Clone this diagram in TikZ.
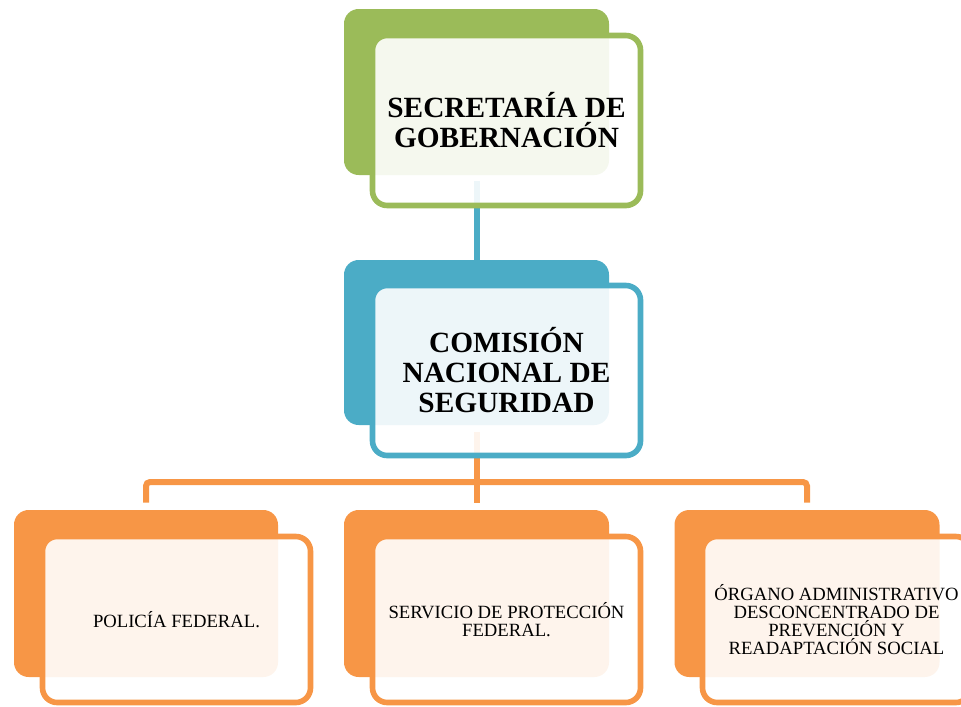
\documentclass[tikz,border=0pt]{standalone}
\usepackage{fontspec}
\setmainfont{Liberation Serif}
\definecolor{cgreen}{HTML}{9BBB59}
\definecolor{cblue}{HTML}{4BACC6}
\definecolor{corange}{HTML}{F79646}
\begin{document}
\begin{tikzpicture}[x=0.75pt,y=-0.75pt,
  back/.style={fill=#1, draw=none, rounded corners=11pt, minimum width=198.75pt, minimum height=124.5pt, inner sep=0pt},
  front/.style={draw=#1, line width=4.2pt, fill=white, fill opacity=0.9, text opacity=1, draw opacity=1, rounded corners=11pt, minimum width=201pt, minimum height=127.5pt, align=center, inner sep=0pt},
  bigtxt/.style={font=\fontsize{22}{22.5}\selectfont\bfseries},
  smalltxt/.style={font=\fontsize{14}{13.5}\selectfont},
  link/.style={draw=#1, line width=4.5pt}]
\useasboundingbox (0,0) rectangle (961,707);
% back rectangles
\node[back=cgreen] (tb) at (476.5,92) {};
\node[back=cblue, minimum height=123.75pt] (mb) at (476.5,342.5) {};
\node[back=corange, minimum width=198pt, minimum height=125.25pt] (lb) at (146,593.5) {};
\node[back=corange, minimum height=125.25pt] (cb) at (476.5,593.5) {};
\node[back=corange, minimum height=125.25pt] (rb) at (807,593.5) {};
% connectors
\draw[link=cblue, shorten <=4.5pt] (tb.south) -- (mb.north);
\coordinate (bus) at (476.5,482);
\draw[link=corange, shorten <=5pt] (mb.south) -- (bus);
\draw[link=corange, rounded corners=3pt, shorten >=5.25pt] (bus) -| (lb.north);
\draw[link=corange, rounded corners=3pt, shorten >=5.25pt] (bus) -| (rb.north);
\draw[link=corange, shorten >=5.25pt] (bus) -- (cb.north);
% front boxes
\node[front=cgreen, bigtxt] (tf) at (506.5,120.5) {SECRETARÍA DE\\GOBERNACIÓN};
\node[front=cblue, bigtxt] (mf) at (506.5,370.5) {COMISIÓN\\NACIONAL DE\\SEGURIDAD};
\node[front=corange, smalltxt, minimum height=124.5pt] (lf) at (176.5,619.5) {POLICÍA FEDERAL.};
\node[front=corange, smalltxt, minimum height=124.5pt] (cf) at (506.5,619.5) {SERVICIO DE PROTECCIÓN\\FEDERAL.};
\node[front=corange, smalltxt, minimum height=124.5pt] (rf) at (836.5,619.5) {ÓRGANO ADMINISTRATIVO\\DESCONCENTRADO DE\\PREVENCIÓN Y\\READAPTACIÓN SOCIAL};
\end{tikzpicture}
\end{document}
